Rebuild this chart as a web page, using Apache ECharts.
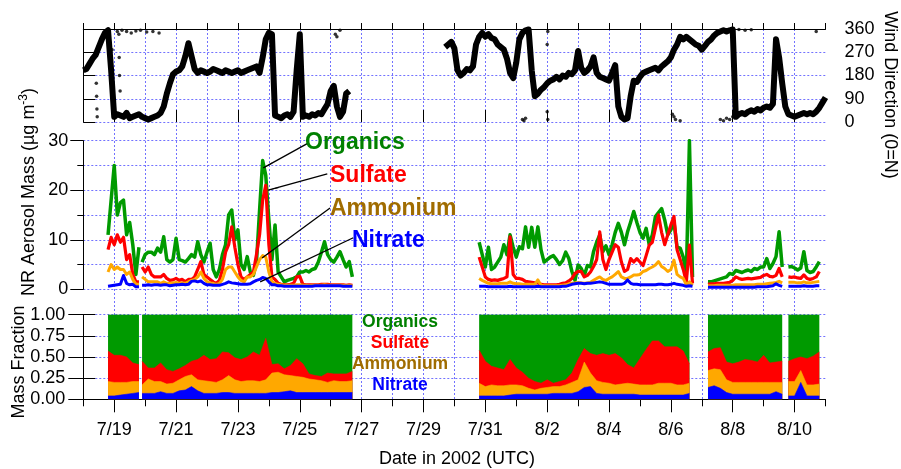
<!DOCTYPE html>
<html><head><meta charset="utf-8">
<script src="https://cdn.jsdelivr.net/npm/echarts@6/dist/echarts.min.js"></script>
<style>html,body{margin:0;padding:0;background:#fff}#c{width:901px;height:469px}</style>
</head><body><div id="c"></div>
<script>
// x values: days since 2002-07-18 00:00 UTC
const dateTickLabels = ['7/19','7/21','7/23','7/25','7/27','7/29','7/31','8/2','8/4','8/6','8/8','8/10'];

// ---- NR aerosol mass (ug m-3), 0.1-day samples, 5 measurement segments ----
const massStep = 0.1;
const massSegStart = [0.8, 1.9, 12.8, 20.2, 22.8];
const organicsMass = [
  [11, 18, 25, 15, 17.5, 18, 11, 13.5, 9, 3, 8.5],
  [5.5, 7, 7.5, 7.5, 7, 8.3, 7.5, 10.6, 6, 5.5,
   6, 10.3, 6, 5.8, 5.5, 6.2, 7, 6.5, 9.6, 7,
   5.5, 7.5, 9.3, 4, 2.5, 4, 7, 9, 15, 16,
   10, 12, 5, 4, 6.6, 3.5, 2.8, 5.5, 16, 26,
   23, 14, 6, 13, 3.5, 2.5, 1.5, 1.8, 2, 2.2,
   2.5, 3.5, 3.5, 3.8, 3.5, 4, 4.2, 5.5, 7.5, 9.6,
   7, 6, 5.5, 6.5, 7.6, 6, 4.5, 5.6, 2.5],
  [9.5, 7, 4.5, 8.5, 4, 4.5, 5.5, 6.5, 9, 7,
   11, 8.5, 6.5, 8.6, 8.2, 12.6, 8.5, 12.5, 8.5, 12.6,
   8, 5.5, 6, 6.5, 6.8, 6, 5, 5.8, 7.5, 6.2,
   3.6, 1.8, 4.9, 4.2, 2.8, 4.8, 4.5, 7.6, 9.5, 11,
   7.6, 8.8, 7, 9, 11.5, 13.3, 11.5, 9, 11.6, 13.6,
   15.7, 13.5, 11.5, 10.3, 12.3, 9, 11, 14.7, 15.5, 16.3,
   14, 11, 12, 13.6, 8.5, 8.3, 6.5, 2.9, 30, 2.5],
  [1.5, 1.5, 1.7, 1.9, 2.1, 2.3, 2.5, 3.2, 3.0, 3.8, 3.6, 3.4, 3.7, 3.9, 3.6, 4.2, 4.0, 4.5, 4.5, 6.2, 4.2, 5.2, 6.6, 11.6, 4.5],
  [4.5, 4.6, 4.3, 3.9, 4.3, 7.6, 3.8, 3.4, 3.6, 4.5, 5.6]
];
const sulfateMass = [
  [8, 10.5, 9, 11, 9.5, 10.5, 6, 7, 3, 1.5, 1.5],
  [4.5, 3.5, 4.5, 3, 2.5, 2.5, 2.5, 3, 2.2, 1.8,
   1.9, 2.2, 1.8, 2, 1.5, 2, 2, 2.5, 4, 5.6,
   3, 2.5, 2, 1.5, 1.2, 1.8, 4, 7.5, 9, 12.6,
   8.5, 5, 2.5, 2, 2.5, 3, 3.5, 7, 11, 18,
   21, 9, 2.5, 2, 1.2, 1, 0.9, 0.9, 1, 1.2,
   2.5, 2.6, 1, 0.9, 0.9, 0.9, 0.9, 0.9, 1, 1,
   1, 0.9, 0.9, 0.9, 0.9, 0.9, 0.8, 0.9, 0.8],
  [6.5, 4.5, 2.5, 2, 1.8, 1.9, 1.8, 2, 2.2, 2.5,
   10.6, 3, 2.2, 2.2, 2, 1.6, 1.5, 1.4, 1.3, 1.3,
   1, 0.9, 0.9, 0.9, 0.9, 0.9, 1, 1.2, 1.3, 1.7,
   2.2, 3.2, 3.6, 3.6, 2.5, 2.8, 3.5, 4.6, 6, 11.6,
   6, 4, 6, 7.5, 9, 8.5, 5.5, 3.6, 4, 6.2,
   5.5, 6.2, 5.5, 4.8, 6.8, 8.9, 9.5, 12.3, 15, 11.5,
   9, 11, 13, 14.7, 8, 6, 4, 1.5, 8.9, 1.2],
  [1.0, 1.1, 1.1, 1.2, 1.2, 1.2, 1.3, 1.4, 1.8, 2.5, 2.2, 2.0, 2.1, 2.2, 2.1, 2.2, 2.3, 2.4, 2.8, 3.0, 2.6, 2.5, 2.8, 4.2, 2.5],
  [2.5, 2.4, 2.5, 2.3, 2.2, 2.9, 2.2, 2.0, 2.2, 2.5, 3.6]
];
const ammoniumMass = [
  [3.5, 5, 4, 4.5, 4, 4, 3, 3.5, 2, 1, 1],
  [2.5, 2, 1.5, 1.5, 1.5, 1.5, 1.2, 1.5, 1.2, 1.2,
   1.3, 1.4, 1.2, 1.3, 1.2, 1.5, 1.8, 2, 2.5, 3.5,
   2.2, 1.5, 1.3, 1.2, 1, 1.2, 2, 4, 4.5, 4.5,
   3.5, 2.5, 1.8, 1.5, 2.5, 2.5, 3, 4.5, 6, 6.8,
   6.5, 3.5, 1.5, 1.2, 1, 0.9, 0.8, 0.8, 0.8, 0.8,
   0.9, 0.9, 0.8, 0.8, 0.7, 0.8, 0.8, 0.8, 0.8, 0.9,
   0.8, 0.8, 0.8, 0.8, 0.8, 0.8, 0.7, 0.8, 0.7],
  [2.2, 1.8, 1.5, 1.2, 1.1, 1.1, 1.1, 1.2, 1.2, 1.2,
   1.5, 1.2, 1.1, 1.1, 1, 1, 1, 1, 1, 1.9,
   0.8, 0.7, 0.7, 0.7, 0.7, 0.7, 0.7, 0.8, 0.9, 1.1,
   1.2, 1.3, 1.3, 1.3, 1.2, 1.3, 1.4, 1.8, 2.2, 2.5,
   2, 1.8, 2.2, 2.5, 3, 3.6, 2.5, 2.2, 2.2, 2.5,
   2.9, 2.9, 3, 3.6, 3.8, 4.2, 4.5, 4.9, 5.6, 4.6,
   4.2, 3.6, 4, 5.9, 3, 2.5, 2.2, 0.9, 1.5, 0.8],
  [0.7, 0.7, 0.7, 0.8, 0.8, 0.8, 0.8, 0.8, 0.8, 0.9, 0.9, 0.9, 0.9, 0.9, 0.9, 0.9, 1.0, 1.0, 1.0, 1.1, 1.2, 1.3, 1.4, 1.6, 1.3],
  [1.4, 1.4, 1.4, 1.3, 1.3, 1.5, 1.3, 1.3, 1.4, 1.5, 1.6]
];
const nitrateMass = [
  [0.6, 0.7, 0.8, 0.9, 1.0, 2.8, 1.2, 0.9, 1.0, 0.5, 0.5],
  [0.8, 0.8, 0.9, 0.8, 0.9, 0.9, 0.8, 0.9, 0.9, 0.7,
   0.8, 0.9, 0.9, 1, 0.9, 1, 1.6, 1.7, 1.5, 1.7,
   1.2, 0.9, 0.9, 0.8, 0.8, 0.8, 1, 1.2, 1.5, 1.3,
   1.2, 1.1, 1, 1, 1, 1.1, 1.5, 1.8, 2, 2.4,
   2.2, 1.5, 0.9, 0.9, 0.7, 0.7, 0.6, 0.6, 0.6, 0.6,
   0.6, 0.6, 0.6, 0.6, 0.6, 0.6, 0.7, 0.7, 0.7, 0.7,
   0.7, 0.7, 0.7, 0.7, 0.7, 0.6, 0.6, 0.6, 0.6],
  [0.6, 0.6, 0.6, 0.5, 0.5, 0.5, 0.5, 0.5, 0.5, 0.5,
   0.6, 0.5, 0.5, 0.5, 0.5, 0.5, 0.5, 0.5, 0.5, 0.6,
   0.5, 0.5, 0.5, 0.5, 0.5, 0.5, 0.5, 0.6, 0.6, 0.8,
   1, 1.1, 1.2, 1.2, 1.1, 1.2, 1.2, 1.3, 1.4, 1.5,
   1.4, 1.2, 1, 1, 1, 1, 1, 1.2, 1.9, 1.2,
   1, 1, 0.9, 0.9, 0.9, 0.9, 0.9, 0.9, 1, 1,
   0.9, 0.9, 1, 1.2, 1, 0.9, 0.8, 0.6, 0.7, 0.6],
  [0.4, 0.4, 0.4, 0.4, 0.4, 0.4, 0.4, 0.4, 0.4, 0.4, 0.4, 0.4, 0.4, 0.4, 0.4, 0.4, 0.5, 0.5, 0.5, 0.5, 0.6, 0.7, 1.1, 0.8, 0.6],
  [0.6, 0.6, 0.6, 0.6, 0.6, 0.7, 0.6, 0.6, 0.6, 0.7, 0.7]
];

// ---- Mass fractions, 0.2-day samples ----
const fracStep = 0.2;
const fracSegStart = [0.8, 1.9, 12.8, 20.2, 22.8];
const nitrateFrac = [
  [0.04, 0.04, 0.05, 0.06, 0.07, 0.08],
  [0.07,0.07,0.07,0.09,0.07,0.07,0.10,0.11,0.15,0.10, 0.07,0.07,0.07,0.08,0.08,0.07,0.07,0.07,0.07,0.07,
   0.07,0.08,0.08,0.09,0.10,0.08,0.08,0.08,0.08,0.08, 0.08,0.08,0.08,0.08,0.08],
  [0.04,0.04,0.04,0.04,0.04,0.05,0.06,0.06,0.06,0.06, 0.06,0.06,0.07,0.07,0.07,0.07,0.09,0.14,0.15,0.07,
   0.06,0.06,0.06,0.06,0.06,0.06,0.05,0.05,0.05,0.05, 0.05,0.05,0.05,0.05,0.07],
  [0.14,0.16,0.13,0.08,0.06,0.06,0.06,0.06,0.06,0.06,0.06,0.09,0.06],
  [0.04,0.04,0.20,0.04,0.04,0.04]
];
const ammoniumFrac = [
  [0.17, 0.16, 0.15, 0.14, 0.14, 0.13],
  [0.10,0.17,0.14,0.12,0.11,0.12,0.13,0.16,0.14,0.13, 0.15,0.14,0.13,0.15,0.20,0.16,0.14,0.15,0.15,0.14,
   0.16,0.23,0.24,0.20,0.18,0.19,0.18,0.16,0.15,0.14, 0.12,0.14,0.13,0.13,0.14],
  [0.15,0.11,0.13,0.12,0.12,0.12,0.11,0.10,0.07,0.05, 0.07,0.08,0.08,0.08,0.10,0.13,0.14,0.30,0.16,0.15,
   0.14,0.13,0.11,0.12,0.13,0.12,0.12,0.12,0.12,0.14, 0.14,0.14,0.12,0.12,0.12],
  [0.20,0.20,0.22,0.15,0.14,0.14,0.14,0.14,0.14,0.14,0.14,0.11,0.14],
  [0.17,0.17,0.14,0.13,0.13,0.14]
];
const sulfateFrac = [
  [0.36, 0.32, 0.32, 0.30, 0.22, 0.20],
  [0.28,0.13,0.16,0.22,0.17,0.14,0.13,0.13,0.16,0.24, 0.30,0.26,0.28,0.33,0.27,0.26,0.26,0.28,0.34,0.31,
   0.49,0.10,0.10,0.07,0.12,0.21,0.16,0.06,0.05,0.05, 0.11,0.08,0.09,0.09,0.11],
  [0.39,0.30,0.22,0.21,0.19,0.30,0.20,0.16,0.12,0.10, 0.06,0.09,0.04,0.06,0.06,0.11,0.24,0.16,0.23,0.30,
   0.34,0.33,0.37,0.31,0.22,0.19,0.31,0.42,0.52,0.50, 0.43,0.43,0.45,0.40,0.23],
  [0.22,0.24,0.26,0.21,0.22,0.24,0.27,0.26,0.24,0.32,0.23,0.24,0.25],
  [0.24,0.27,0.16,0.31,0.34,0.38]
];
const organicsFrac = [
  [0.43, 0.48, 0.48, 0.50, 0.57, 0.59],
  [0.55,0.63,0.63,0.57,0.65,0.67,0.64,0.60,0.55,0.53, 0.48,0.53,0.52,0.44,0.45,0.51,0.53,0.50,0.44,0.48,
   0.28,0.59,0.58,0.64,0.60,0.52,0.58,0.70,0.72,0.73, 0.69,0.70,0.70,0.70,0.67],
  [0.42,0.55,0.61,0.63,0.65,0.53,0.63,0.68,0.75,0.79, 0.81,0.77,0.81,0.79,0.77,0.69,0.53,0.40,0.46,0.48,
   0.46,0.48,0.46,0.51,0.59,0.63,0.52,0.41,0.31,0.31, 0.38,0.38,0.38,0.43,0.58],
  [0.44,0.40,0.39,0.56,0.58,0.56,0.53,0.54,0.56,0.48,0.57,0.56,0.55],
  [0.55,0.52,0.50,0.52,0.49,0.44]
];

// ---- Wind direction (deg, 0 = N), 0.1-day samples ----
const windStep = 0.1;
const windSegStart = [0.0, 11.7];
const windDir = [
  [200, 205, 225, 245, 260, 290, 320, 345, 355, 200,
   20, 30, 25, 20, 35, 15, 20, 25, 30, 20,
   15, 10, 15, 20, 25, 35, 60, 110, 150, 185,
   195, 200, 215, 255, 305, 255, 205, 190, 200, 195,
   190, 195, 205, 200, 195, 190, 200, 195, 190, 195,
   200, 190, 195, 200, 205, 210, 215, 190, 250, 320,
   345, 340, 25, 20, 15, 25, 30, 20, 40, 200,
   340, 20, 25, 20, 30, 25, 35, 30, 50, 70,
   120, 140, 60, 20, 40, 110, 120],
  [290, 300, 310, 285, 200, 180, 190, 205, 200, 215,
   300, 330, 345, 330, 340, 325, 320, 300, 290, 280,
   245, 190, 170, 230, 320, 345, 355, 358, 200, 100,
   110, 125, 135, 150, 160, 165, 175, 165, 180, 175,
   190, 185, 200, 275, 210, 190, 200, 215, 250, 190,
   175, 170, 165, 160, 190, 220, 60, 20, 10, 15,
   100, 160, 155, 175, 190, 195, 200, 205, 210, 200,
   215, 225, 235, 250, 280, 300, 330, 320, 330, 320,
   310, 300, 295, 280, 295, 310, 320, 335, 345, 350,
   355, 350, 355, 358, 20, 30, 35, 30, 40, 45,
   40, 50, 45, 55, 60, 55, 70, 320, 250, 150,
   60, 30, 25, 20, 25, 30, 35, 30, 35, 30,
   40, 55, 75, 95]
];
// scattered individual readings (time in days, direction in deg)
const windExtraTime = [0.42,0.43,0.44,0.45,0.93,0.95,0.97,1.1,1.15,1.16,1.17,1.19,1.25,1.4,1.55,1.7,1.85,2.05,2.25,2.45,
  6.15,6.17,6.19,8.15,8.2,8.3,14.2,14.25,14.3,15.0,15.02,15.0,15.02,19.05,19.1,19.15,19.3,
  20.6,20.7,20.8,20.9,21.0,21.2,21.4,21.6,23.7];
const windExtraDir = [150,100,50,20,280,120,60,350,340,250,180,120,355,350,345,352,355,348,350,345,
  250,180,100,340,330,355,10,5,15,300,350,40,10,30,20,10,5,
  10,5,15,10,20,358,355,357,350];

// annotation arrows (tail near label -> head on trace), in data coords of the mass panel
const arrowTails = [[7.27, 29.5], [7.89, 23.3], [7.98, 16.4], [8.73, 10.4]];
const arrowHeads = [[5.82, 24.5], [5.98, 20.0], [5.78, 6.3], [5.72, 1.5]];

const speciesNames = ['Organics', 'Sulfate', 'Ammonium', 'Nitrate'];
const seriesColors = ['#009a00', '#ff0000', '#ffa800', '#0000ff'];
const labelColors = ['#008000', '#ff0000', '#a06c00', '#0000ff'];

// ---------------------------------------------------------------
const FONT = 'Liberation Sans, Arial, sans-serif';
const GRID_BLUE = '#7272ff';
const dotted = { color: GRID_BLUE, type: [2, 2], width: 1 };
const L = 83.3, R = 901 - 825.5;

function toPairs(start, step, arr) {
  return arr.map((v, i) => [Math.round((start + i * step) * 1000) / 1000, v]);
}
const oddDays = [];
for (let d = 1; d < 24; d += 2) oddDays.push(d);

const series = [];
// wind
windDir.forEach((seg, i) => series.push({
  type: 'line', xAxisIndex: 1, yAxisIndex: 1, data: toPairs(windSegStart[i], windStep, seg),
  showSymbol: false, lineStyle: { color: '#000', width: 6, join: 'round' }, z: 3, silent: true
}));
series.push({
  type: 'scatter', xAxisIndex: 1, yAxisIndex: 1, symbolSize: 3.5, itemStyle: { color: '#000' },
  data: windExtraTime.map((t, i) => [t, windExtraDir[i]]), z: 3, silent: true
});
// mass
const massArrays = [organicsMass, sulfateMass, ammoniumMass, nitrateMass];
const massWidths = [3.5, 3.2, 3, 3];
massArrays.forEach((segs, k) => {
  segs.forEach((seg, i) => {
    const s = {
      type: 'line', name: speciesNames[k], xAxisIndex: 3, yAxisIndex: 2,
      data: toPairs(massSegStart[i], massStep, seg), showSymbol: false,
      lineStyle: { color: seriesColors[k], width: massWidths[k], join: 'round' }, z: 3 + k, silent: true
    };
    if (k === 0 && i === 1) {
      s.markLine = {
        silent: true, symbol: ['none', 'arrow'], symbolSize: [1, 11], label: { show: false },
        lineStyle: { color: '#000', width: 1.3, type: 'solid' },
        data: arrowTails.map((t, j) => [{ coord: t }, { coord: arrowHeads[j] }]), z: 10
      };
    }
    series.push(s);
  });
});
// fractions: cumulative layers drawn back to front (organics top edge, then sulfate, ammonium, nitrate)
const fracLayers = [organicsFrac, sulfateFrac, ammoniumFrac, nitrateFrac]; // order = speciesNames
fracSegStart.forEach((st, i) => {
  for (let k = 0; k < 4; k++) {
    const cum = nitrateFrac[i].map((_, j) => {
      let s = 0;
      for (let m = k; m < 4; m++) s += fracLayers[m][i][j];
      return Math.round(s * 1000) / 1000;
    });
    series.push({
      type: 'line', xAxisIndex: 4, yAxisIndex: 3,
      data: toPairs(st, fracStep, cum), showSymbol: false,
      lineStyle: { color: seriesColors[k], width: 0.6 },
      areaStyle: { color: seriesColors[k], opacity: 1, origin: 'start' }, z: 3 + k, silent: true
    });
  }
});

const gLeft = (top, height) => ({ left: L, right: R, top: top, height: height });
const axisFont = { color: '#000', fontSize: 18, fontFamily: FONT };

const option = {
  animation: false,
  backgroundColor: '#fff',
  grid: [gLeft(29, 370.3), gLeft(29, 93), gLeft(140.7, 148.6), gLeft(314.7, 84.6)],
  xAxis: [
    { gridIndex: 0, type: 'value', min: 0, max: 24, interval: 1,
      axisLine: { show: false }, axisTick: { show: false }, axisLabel: { show: false },
      splitLine: { show: true, showMinLine: false, showMaxLine: false, lineStyle: dotted } },
    { gridIndex: 1, type: 'value', position: 'top', min: 0, max: 24, interval: 1,
      axisLine: { show: true, onZero: false, lineStyle: { color: '#000', width: 1 } },
      axisTick: { show: true, length: 6, lineStyle: { color: '#000' } },
      axisLabel: { show: false }, splitLine: { show: false } },
    { gridIndex: 1, type: 'value', position: 'top', min: 0, max: 24, interval: 1,
      axisLine: { show: false },
      axisTick: { show: true, length: 12, customValues: oddDays, lineStyle: { color: '#000' } },
      axisLabel: { show: false }, splitLine: { show: false } },
    { gridIndex: 2, type: 'value', min: 0, max: 24, interval: 1, show: false },
    { gridIndex: 3, type: 'value', position: 'bottom', min: 0, max: 24, interval: 1,
      axisLine: { show: true, onZero: false, lineStyle: { color: '#000', width: 1 } },
      axisTick: { show: true, length: 7, lineStyle: { color: '#000' } },
      axisLabel: Object.assign({ show: true, margin: 22, showMinLabel: true, showMaxLabel: true,
        formatter: v => { const d = Math.round(v); return d % 2 === 1 ? dateTickLabels[(d - 1) / 2] : ''; } }, axisFont),
      splitLine: { show: false } },
    { gridIndex: 3, type: 'value', position: 'bottom', min: 0, max: 24, interval: 1,
      axisLine: { show: false },
      axisTick: { show: true, length: 13, customValues: oddDays, lineStyle: { color: '#000' } },
      axisLabel: { show: false }, splitLine: { show: false } }
  ],
  yAxis: [
    { gridIndex: 0, type: 'value', min: 0, max: 1, show: false },
    { gridIndex: 1, type: 'value', position: 'right', min: 0, max: 360, interval: 90,
      axisLine: { show: true, lineStyle: { color: '#000' } },
      axisTick: { show: true, length: 12, lineStyle: { color: '#000' } },
      axisLabel: Object.assign({ margin: 19 }, axisFont),
      splitLine: { show: true, lineStyle: dotted } },
    { gridIndex: 2, type: 'value', position: 'left', min: 0, max: 30, interval: 10,
      axisLine: { show: true, lineStyle: { color: '#000' } },
      axisTick: { show: true, length: 13, lineStyle: { color: '#000' } },
      minorTick: { show: true, splitNumber: 2, length: 6, lineStyle: { color: '#000' } },
      axisLabel: Object.assign({ margin: 15 }, axisFont),
      splitLine: { show: true, lineStyle: dotted },
      minorSplitLine: { show: true, lineStyle: dotted } },
    { gridIndex: 3, type: 'value', position: 'left', min: 0, max: 1, interval: 0.25,
      axisLine: { show: true, lineStyle: { color: '#000' } },
      axisTick: { show: true, length: 15, lineStyle: { color: '#000' } },
      axisLabel: Object.assign({ margin: 18, formatter: v => v.toFixed(2) }, axisFont),
      splitLine: { show: true, lineStyle: dotted } },
    { gridIndex: 3, type: 'value', position: 'right', min: 0, max: 1, interval: 0.25,
      axisLine: { show: true, lineStyle: { color: '#000' } },
      axisTick: { show: true, length: 12, lineStyle: { color: '#000' } },
      axisLabel: { show: false }, splitLine: { show: false } }
  ],
  series: series,
  graphic: []
};

const gfx = [];
const annY = [143, 176, 209, 241], annX = [305, 330, 330, 352];
speciesNames.forEach((n, k) => {
  gfx.push({ type: 'text', x: annX[k], y: annY[k], z: 100, silent: true,
    style: { text: n, fill: labelColors[k], fontSize: 23, fontWeight: 'bold', fontFamily: FONT,
      align: 'left', verticalAlign: 'middle' } });
});
const legY = [322, 343, 364, 385];
speciesNames.forEach((n, k) => {
  gfx.push({ type: 'text', x: 400, y: legY[k], z: 100, silent: true,
    style: { text: n, fill: labelColors[k], fontSize: 17.5, fontWeight: 'bold', fontFamily: FONT,
      align: 'center', verticalAlign: 'middle' } });
});
gfx.push({ type: 'text', x: 29, y: 192, rotation: Math.PI / 2, z: 100, silent: true,
  style: { text: 'NR Aerosol Mass (µg m{sup|-3})', fill: '#000', fontSize: 18, fontFamily: FONT,
    align: 'center', verticalAlign: 'middle', lineHeight: 22,
    rich: { sup: { fontSize: 12, fontFamily: FONT, fill: '#000', verticalAlign: 'top', lineHeight: 12 } } } });
gfx.push({ type: 'text', x: 19, y: 362, rotation: Math.PI / 2, z: 100, silent: true,
  style: { text: 'Mass Fraction', fill: '#000', fontSize: 18, fontFamily: FONT, align: 'center', verticalAlign: 'middle' } });
gfx.push({ type: 'text', x: 890, y: 95, rotation: -Math.PI / 2, z: 100, silent: true,
  style: { text: 'Wind Direction (0=N)', fill: '#000', fontSize: 18, fontFamily: FONT, align: 'center', verticalAlign: 'middle' } });
gfx.push({ type: 'text', x: 457, y: 459, z: 100, silent: true,
  style: { text: 'Date in 2002 (UTC)', fill: '#000', fontSize: 18, fontFamily: FONT, align: 'center', verticalAlign: 'middle' } });
option.graphic = gfx;

const chart = echarts.init(document.getElementById('c'), null, { renderer: 'canvas' });
chart.setOption(option);
</script>
</body></html>
